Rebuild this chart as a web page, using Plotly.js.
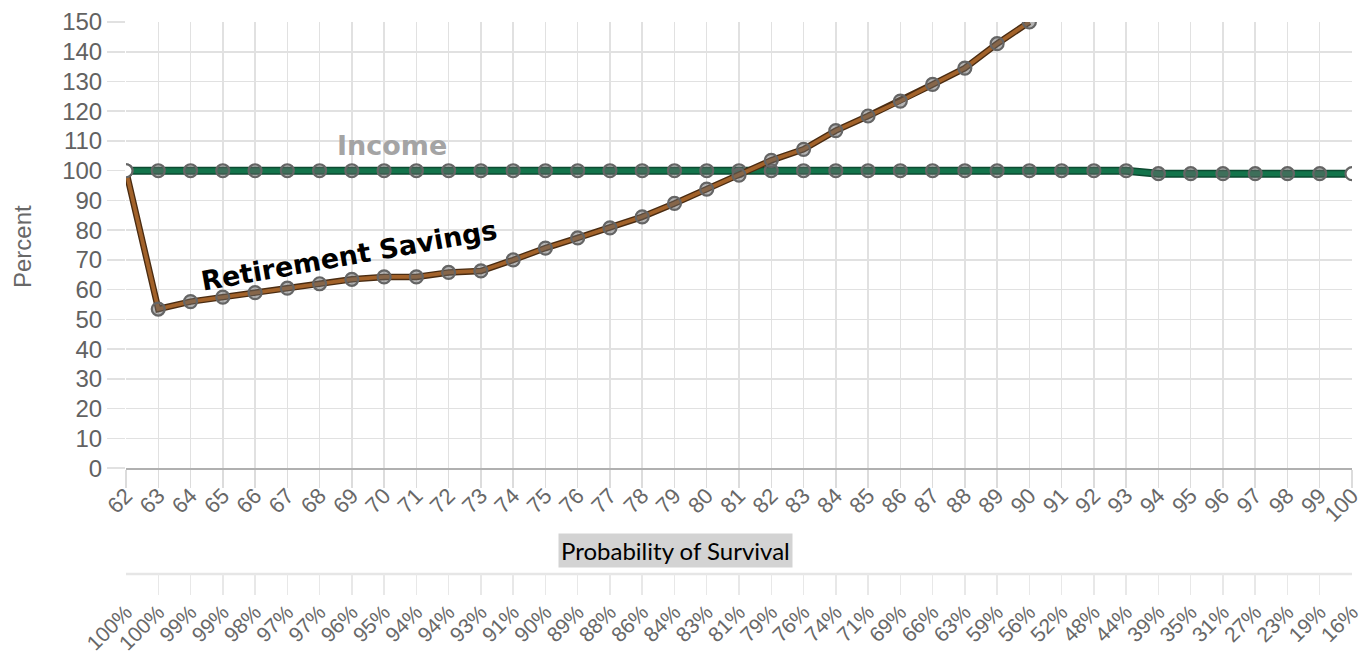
<!DOCTYPE html>
<html>
<head>
<meta charset="utf-8">
<script src="https://cdn.plot.ly/plotly-3.0.1.min.js"></script>
<style>
  html, body { margin: 0; padding: 0; background: #fff; }
  #chart { width: 1369px; height: 653px; }
</style>
</head>
<body>
<div id="chart"></div>
<script>
// Age at each step of the projection
const ages = [62, 63, 64, 65, 66, 67, 68, 69, 70, 71, 72, 73, 74, 75, 76, 77, 78, 79, 80,
              81, 82, 83, 84, 85, 86, 87, 88, 89, 90, 91, 92, 93, 94, 95, 96, 97, 98, 99, 100];

// Probability of surviving to each age
const survival = ['100%', '100%', '99%', '99%', '98%', '97%', '97%', '96%', '95%', '94%',
                  '94%', '93%', '91%', '90%', '89%', '88%', '86%', '84%', '83%', '81%',
                  '79%', '76%', '74%', '71%', '69%', '66%', '63%', '59%', '56%', '52%',
                  '48%', '44%', '39%', '35%', '31%', '27%', '23%', '19%', '16%'];

// Income as a percent of the starting level
const income = [100, 100, 100, 100, 100, 100, 100, 100, 100, 100,
                100, 100, 100, 100, 100, 100, 100, 100, 100, 100,
                100, 100, 100, 100, 100, 100, 100, 100, 100, 100,
                100, 100, 99, 99, 99, 99, 99, 99, 99];

// Retirement savings as a percent of the starting balance (ages 62 to 90)
const savings = [100, 53.5, 56, 57.5, 59, 60.5, 62, 63.5, 64.3, 64.3,
                 65.8, 66.3, 70, 74, 77.4, 80.8, 84.5, 89, 93.8, 98.5,
                 103.5, 107.2, 113.5, 118.4, 123.4, 129, 134.5, 142.7, 150];

const yTicks = [0, 10, 20, 30, 40, 50, 60, 70, 80, 90, 100, 110, 120, 130, 140, 150];

const savingsAges = ages.slice(0, savings.length);

function markerFill(n, ends) {
  return Array.from({length: n}, (_, i) =>
    ends.includes(i) ? '#ffffff' : 'rgba(105,105,105,0.5)');
}

const markerStyle = (n, ends) => ({
  size: 13,
  color: markerFill(n, ends),
  line: {color: '#656565', width: 2.2}
});

const traces = [
  // income line: dark edge under a lighter core
  {x: ages, y: income, type: 'scatter', mode: 'lines',
   line: {color: '#0d4a31', width: 8}, hoverinfo: 'skip', showlegend: false},
  {x: ages, y: income, type: 'scatter', mode: 'lines+markers',
   line: {color: '#13744b', width: 5},
   marker: markerStyle(ages.length, [0, ages.length - 1]),
   showlegend: false},
  // savings line
  {x: savingsAges, y: savings, type: 'scatter', mode: 'lines',
   line: {color: '#4a2c12', width: 6.5}, hoverinfo: 'skip', showlegend: false},
  {x: savingsAges, y: savings, type: 'scatter', mode: 'lines+markers',
   line: {color: '#a2622a', width: 3.8},
   marker: markerStyle(savingsAges.length, [0]),
   showlegend: false},
  // invisible carrier for the survival axis strip
  {x: ages, y: ages.map(() => null), xaxis: 'x2', yaxis: 'y2',
   type: 'scatter', mode: 'markers', hoverinfo: 'skip', showlegend: false}
];

const gridColor = '#e1e1e1';
const tickFont = {family: 'Liberation Sans, Arial, sans-serif', size: 22, color: '#686868'};

const layout = {
  width: 1369,
  height: 653,
  margin: {l: 126, r: 17, t: 22, b: 0},
  paper_bgcolor: '#ffffff',
  plot_bgcolor: '#ffffff',
  hovermode: false,
  xaxis: {
    type: 'linear',
    range: [62, 100],
    tickvals: ages,
    ticktext: ages.map(String),
    tickangle: -45,
    tickfont: tickFont,
    ticks: 'outside',
    ticklen: 18,
    tickcolor: '#dcdcdc',
    tickwidth: 1.5,
    ticklabelstandoff: -14,
    showgrid: true,
    gridcolor: gridColor,
    gridwidth: 1.5,
    showline: true,
    linecolor: '#b0b0b0',
    linewidth: 2,
    zeroline: false,
    anchor: 'y',
    fixedrange: true
  },
  yaxis: {
    domain: [0.2929, 1],
    range: [0, 150],
    tickvals: yTicks,
    tickfont: {family: 'Liberation Sans, Arial, sans-serif', size: 24, color: '#626262'},
    ticks: 'outside',
    ticklen: 18,
    tickcolor: gridColor,
    tickwidth: 1.5,
    showgrid: true,
    gridcolor: gridColor,
    gridwidth: 1.5,
    zeroline: false,
    showline: false,
    anchor: 'x',
    fixedrange: true
  },
  xaxis2: {
    type: 'linear',
    range: [62, 100],
    tickvals: ages,
    ticktext: survival,
    tickangle: -45,
    tickfont: {family: 'Liberation Sans, Arial, sans-serif', size: 21, color: '#686868'},
    ticks: '',
    showgrid: true,
    gridcolor: '#e8e8e8',
    gridwidth: 1.5,
    showline: false,
    zeroline: false,
    anchor: 'y2',
    fixedrange: true
  },
  yaxis2: {
    domain: [0.0920, 0.1252],
    range: [0, 1],
    showgrid: false,
    showticklabels: false,
    ticks: '',
    zeroline: false,
    showline: false,
    anchor: 'x2',
    fixedrange: true
  },
  shapes: [
    {type: 'line', xref: 'x2 domain', yref: 'y2 domain', x0: 0, x1: 1, y0: 1, y1: 1,
     line: {color: '#e6e6e6', width: 2.5}, layer: 'below'}
  ],
  annotations: [
    {text: 'Percent', xref: 'paper', yref: 'paper', x: -0.0848, y: 0.6434,
     xanchor: 'center', yanchor: 'middle', textangle: -90, showarrow: false,
     font: {family: 'Liberation Sans, Arial, sans-serif', size: 24, color: '#686868'}},
    {text: 'Income', xref: 'x', yref: 'y', x: 70.25, y: 108.5,
     xanchor: 'center', yanchor: 'middle', showarrow: false,
     font: {family: 'DejaVu Sans, sans-serif', size: 27, color: '#a4a4a4', weight: 'bold'}},
    {text: 'Retirement Savings', xref: 'x', yref: 'y', x: 68.9, y: 71.6,
     xanchor: 'center', yanchor: 'middle', textangle: -10, showarrow: false,
     font: {family: 'DejaVu Sans, sans-serif', size: 27, color: '#000000', weight: 'bold'}},
    {text: 'Probability of Survival', xref: 'paper', yref: 'paper', x: 0.4486, y: 0.1624,
     xanchor: 'center', yanchor: 'middle', showarrow: false,
     bgcolor: '#d3d3d3', borderpad: 2,
     font: {family: 'Lato, sans-serif', size: 24, color: '#000000'}}
  ]
};

Plotly.newPlot('chart', traces, layout, {displayModeBar: false, staticPlot: true});
</script>
</body>
</html>
